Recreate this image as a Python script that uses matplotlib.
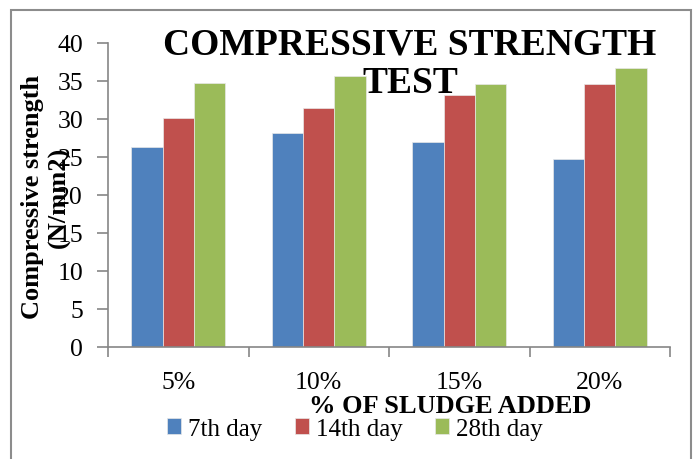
import matplotlib
matplotlib.use("Agg")
import matplotlib.pyplot as plt
import numpy as np

categories = ["5%", "10%", "15%", "20%"]
series_names = ["7th day", "14th day", "28th day"]
day7 = [26.3, 28.1, 27.0, 24.8]
day14 = [30.1, 31.4, 33.1, 34.6]
day28 = [34.7, 35.6, 34.6, 36.7]
colors = ["#4F81BD", "#C0504D", "#9BBB59"]

plt.rcParams['font.family'] = ['Liberation Serif', 'DejaVu Serif']

fig = plt.figure(figsize=(6.99, 4.60), dpi=100)
# plot area in pixel terms: x 108..670, y 44..348
ax = fig.add_axes([108/699, 1 - 348/460, 562/699, 304/460])

x = np.arange(len(categories))
w = 0.222
for i, (vals, name) in enumerate(zip([day7, day14, day28], series_names)):
    ax.bar(x + (i - 1) * w, vals, width=w, color=colors[i], label=name,
           edgecolor="#e8e8e8", linewidth=0.5)

grey = "#868686"
ax.set_xlim(-0.5, len(categories) - 0.5)
ax.set_ylim(0, 40)
ax.set_yticks(range(0, 41, 5))
ax.set_xticks(x)
ax.set_xticklabels(categories, fontsize=18.5)
ax.set_xticks(np.arange(-0.5, len(categories), 1), minor=True)
ax.tick_params(axis="x", which="major", length=0, pad=17)
ax.tick_params(axis="x", which="minor", length=7, color=grey, width=1.2)
ax.tick_params(axis="y", length=8, color=grey, width=1.2, labelsize=18.5, pad=10)
for s in ["top", "right"]:
    ax.spines[s].set_visible(False)
for s in ["left", "bottom"]:
    ax.spines[s].set_color(grey)
    ax.spines[s].set_linewidth(1.2)

# title overlapping the bars
fig.text(410/699, 1 - 64/460, "COMPRESSIVE STRENGTH\nTEST", ha="center", va="center",
         fontsize=27, fontweight="bold", linespacing=1.12, zorder=5)

fig.text(46/699, 1 - 197/460, "Compressive strength\n(N/mm2)", rotation=90,
         ha="center", va="center", fontsize=19, fontweight="bold",
         multialignment="center", linespacing=1.15)

fig.text(450/699, 1 - 407/460, "% OF SLUDGE ADDED", ha="center", va="center",
         fontsize=19, fontweight="bold")

fig.legend(loc="center", bbox_to_anchor=(355/699, 1 - 430/460), ncol=3,
           frameon=False, fontsize=18, handlelength=0.55, handleheight=0.6,
           handletextpad=0.3, columnspacing=1.3, borderpad=0)

# outer chart border
fig.patches.append(plt.Rectangle((11/699, -0.05), 680/699, 1 - 11/460 + 0.05,
                                 transform=fig.transFigure, fill=False,
                                 edgecolor="#8c8c8c", linewidth=1.5))

fig.savefig("out.png", dpi=100)
